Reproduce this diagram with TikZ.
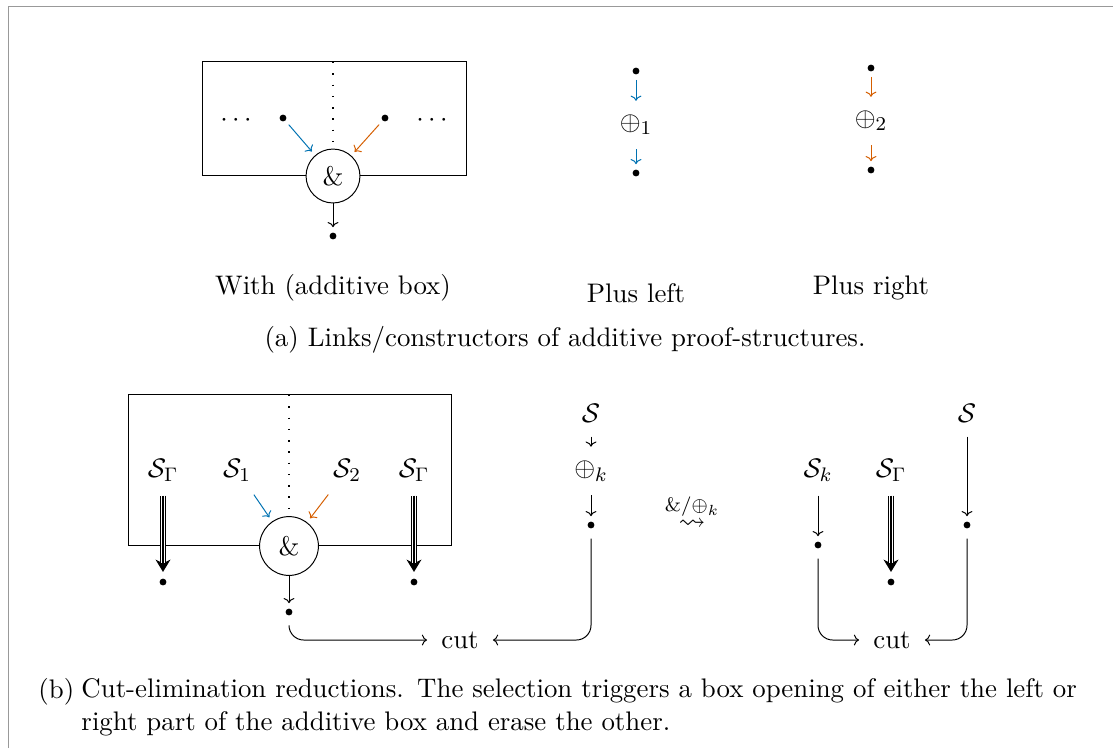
\documentclass[11pt,tikz,border=0pt]{standalone}
\usepackage{amssymb}
\usetikzlibrary{arrows.meta}
\definecolor{cblue}{RGB}{0,114,178}
\definecolor{corange}{RGB}{213,94,0}
\tikzset{
  >={To[scale=0.85]},
  pt/.style={circle, fill, inner sep=0pt, minimum size=2.8pt},
  arr/.style={->, shorten <=2pt, shorten >=2pt},
  withlink/.style={circle, draw, fill=white, inner sep=0pt},
  triple/.style={draw=white, line width=0.4pt, double=black, double distance=0.6pt,
    shorten <=2pt, shorten >=6pt,
    preaction={draw=black, line width=2.6pt, shorten <=2pt, shorten >=2.5pt,
      -{Stealth[length=5pt, width=6pt, inset=1.5pt]}}},
}
\begin{document}
\begin{tikzpicture}[x=0.408pt, y=-0.408pt]
  \useasboundingbox (0,0) rectangle (1113,748);
  \draw[gray!80] (8,748) -- (8,6) -- (1113,6);

  % (a) with
  \begin{scope}
    \draw (202,61) rectangle (466,175);
    \coordinate (top1) at (333,62);
    \node (ldots) at (236,121) {$\cdots$};
    \node (rdots) at (432,121) {$\cdots$};
    \node[pt] (a1) at (283,118) {};
    \node[pt] (a2) at (385,118) {};
    \node[withlink, minimum size=22pt] (w1) at (333,176) {$\&$};
    \node[pt] (wo) at (333,236) {};
    \draw[loosely dotted, line width=0.6pt] (top1) -- (w1.north);
    \draw[arr, cblue] (a1) -- (w1);
    \draw[arr, corange] (a2) -- (w1);
    \draw[arr, shorten <=0pt] (w1) -- (wo);
  \end{scope}

  % (a) plus
  \node[pt] (p1) at (636,71) {};
  \node (pl) at (636,125) {$\oplus_1$};
  \node[pt] (p2) at (636,173) {};
  \draw[arr, cblue] (p1) -- (pl);
  \draw[arr, cblue] (pl) -- (p2);
  \node[pt] (q1) at (871,68) {};
  \node (pr) at (871,121) {$\oplus_2$};
  \node[pt] (q2) at (871,170) {};
  \draw[arr, corange] (q1) -- (pr);
  \draw[arr, corange] (pr) -- (q2);

  \node (lwith) at (333,288) {With (additive box)};
  \node (lplusl) at (636,293) {Plus left};
  \node (lplusr) at (871,288) {Plus right};
  \node (capa) at (565,340) {(a) Links/constructors of additive proof-structures.};

  % (b) left side
  \draw (128,394) rectangle (451,545);
  \coordinate (top2) at (289,395);
  \node (sg1) at (163,470) {$\mathcal{S}_\Gamma$};
  \node (s1) at (237,470) {$\mathcal{S}_1$};
  \node (s2) at (347,470) {$\mathcal{S}_2$};
  \node (sg2) at (414,470) {$\mathcal{S}_\Gamma$};
  \node[withlink, minimum size=24pt] (w2) at (289,546) {$\&$};
  \node[pt] (g1) at (163,582) {};
  \node[pt] (g2) at (414,582) {};
  \node[pt] (c1) at (289,612) {};
  \draw[loosely dotted, line width=0.6pt] (top2) -- (w2.north);
  \draw[triple] (sg1) -- (g1);
  \draw[triple] (sg2) -- (g2);
  \draw[arr, cblue] (s1) -- (w2);
  \draw[arr, corange] (s2) -- (w2);
  \draw[arr, shorten <=0pt] (w2) -- (c1);

  \node (s3) at (591,413) {$\mathcal{S}$};
  \node (pk) at (591,471) {$\oplus_k$};
  \node[pt] (c2) at (591,525) {};
  \draw[arr] (s3) -- (pk);
  \draw[arr] (pk) -- (c2);

  \node (cut1) at (460,640) {cut};
  \draw[->, rounded corners=6pt, shorten <=4pt, shorten >=2pt] (c1) |- (cut1);
  \draw[->, rounded corners=6pt, shorten <=4pt, shorten >=2pt] (c2) |- (cut1);

  \node (red) at (692,512) {$\stackrel{\&/\oplus_k}{\rightsquigarrow}$};

  % (b) right side
  \node (sk) at (818,470) {$\mathcal{S}_k$};
  \node (sg3) at (891,470) {$\mathcal{S}_\Gamma$};
  \node (s4) at (967,413) {$\mathcal{S}$};
  \node[pt] (k1) at (818,545) {};
  \node[pt] (g3) at (891,582) {};
  \node[pt] (k2) at (967,525) {};
  \draw[arr] (sk) -- (k1);
  \draw[triple] (sg3) -- (g3);
  \draw[arr] (s4) -- (k2);
  \node (cut2) at (892,640) {cut};
  \draw[->, rounded corners=6pt, shorten <=4pt, shorten >=2pt] (k1) |- (cut2);
  \draw[->, rounded corners=6pt, shorten <=4pt, shorten >=2pt] (k2) |- (cut2);

  \node[anchor=north west, inner sep=0pt] (capbl) at (38,678) {(b)};
  \node[anchor=north west, text width=413pt, inner sep=0pt] (capb) at (81,678)
    {Cut-elimination reductions. The selection triggers a box opening of either the left or right part of the additive box and erase the other.};
\end{tikzpicture}
\end{document}
